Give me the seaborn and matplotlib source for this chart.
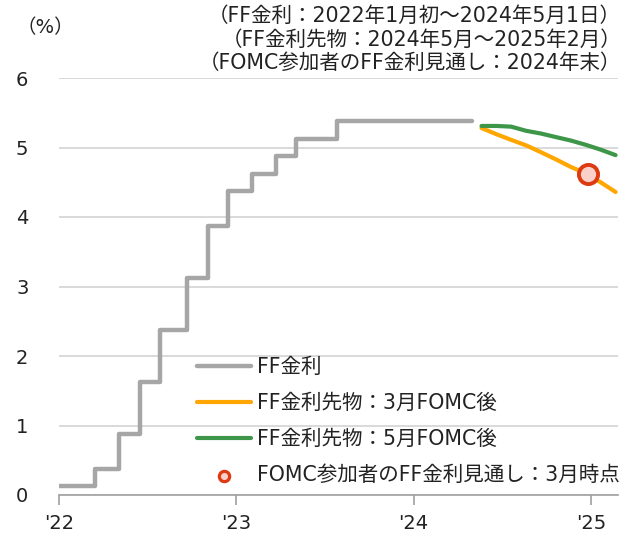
import matplotlib
matplotlib.use("Agg")
import matplotlib.pyplot as plt
import seaborn as sns
import pandas as pd

sns.set_theme(style="white")
plt.rcParams['font.family'] = ['DejaVu Sans', 'Noto Sans CJK JP']

# FF rate (midpoint of target range), step changes
ff_dates = ["2022-01-01", "2022-03-17", "2022-05-05", "2022-06-16", "2022-07-28",
            "2022-09-22", "2022-11-03", "2022-12-15", "2023-02-02", "2023-03-23",
            "2023-05-04", "2023-07-27", "2024-05-01"]
ff_values = [0.125, 0.375, 0.875, 1.625, 2.375, 3.125, 3.875, 4.375, 4.625,
             4.875, 5.125, 5.375, 5.375]

# FF futures, May 2024 - Feb 2025
fut_dates = ["2024-05-20", "2024-06-20", "2024-07-20", "2024-08-20", "2024-09-20",
             "2024-10-20", "2024-11-20", "2024-12-20", "2025-01-20", "2025-02-20"]
fut_march = [5.28, 5.19, 5.11, 5.03, 4.93, 4.83, 4.72, 4.63, 4.50, 4.36]
fut_may = [5.31, 5.31, 5.30, 5.24, 5.20, 5.15, 5.10, 5.04, 4.97, 4.89]

# FOMC projection for end of 2024 (March SEP)
fomc_date = ["2024-12-25"]
fomc_value = [4.625]

year_ticks = ["2022-01-01", "2023-01-01", "2024-01-01", "2025-01-01"]
year_labels = ["'22", "'23", "'24", "'25"]

labels = ["FF金利", "FF金利先物：3月FOMC後", "FF金利先物：5月FOMC後",
          "FOMC参加者のFF金利見通し：3月時点"]

c_gray = "#A6A6A6"
c_orange = "#FFA600"
c_green = "#3E9649"

fig = plt.figure(figsize=(6.24, 5.39), dpi=100)
ax = fig.add_axes([59/624, (539-495)/539, (618-59)/624, (495-78)/539])

df_ff = pd.DataFrame({"date": pd.to_datetime(ff_dates), "v": ff_values})
df_fut = pd.DataFrame({"date": pd.to_datetime(fut_dates), "m": fut_march, "n": fut_may})
df_dot = pd.DataFrame({"date": pd.to_datetime(fomc_date), "v": fomc_value})

sns.lineplot(data=df_ff, x="date", y="v", ax=ax, color=c_gray, linewidth=3.2,
             drawstyle="steps-post", label=labels[0], zorder=3)
sns.lineplot(data=df_fut, x="date", y="m", ax=ax, color=c_orange, linewidth=3.0,
             label=labels[1], zorder=3)
sns.lineplot(data=df_fut, x="date", y="n", ax=ax, color=c_green, linewidth=3.0,
             label=labels[2], zorder=3)
sns.scatterplot(data=df_dot, x="date", y="v", ax=ax, s=190, color="#FBD0C8",
                edgecolor="#DD3A12", linewidth=2.8, label=labels[3], zorder=5)

ax.set_xlim(pd.Timestamp("2022-01-01"), pd.Timestamp("2025-02-25"))
ax.set_ylim(0, 6)
ax.set_yticks(range(0, 7))
ax.set_xticks(pd.to_datetime(year_ticks))
ax.set_xticklabels(year_labels)
ax.set_xlabel("")
ax.set_ylabel("")

ax.grid(axis="y", color="#D3D3D3", linewidth=1.2)
ax.grid(axis="x", visible=False)
for s in ["left", "right", "top"]:
    ax.spines[s].set_visible(False)
ax.spines["bottom"].set_color("#A0A0A0")
ax.spines["bottom"].set_linewidth(1.2)
ax.tick_params(axis="x", direction="out", length=7, width=1.2, color="#A0A0A0",
               pad=7, labelsize=14, labelcolor="#222222", bottom=True)
ax.tick_params(axis="y", length=0, pad=22, labelsize=14, labelcolor="#222222")

leg = ax.legend(loc="upper left", bbox_to_anchor=(197/624, 1 - 357/539),
                bbox_transform=fig.transFigure, frameon=False, fontsize=14.8,
                handlelength=2.65, handletextpad=0.25, labelspacing=0.78,
                borderaxespad=0, borderpad=0)
for t in leg.get_texts():
    t.set_color("#222222")
h = leg.legend_handles[3]
h.set_sizes([55])
h.set_linewidth(2.3)

fig.text(16/624, 1 - 28/539, "（%）", fontsize=14, ha="left", va="center", color="#222222")
tops = ["（FF金利：2022年1月初～2024年5月1日）",
        "（FF金利先物：2024年5月～2025年2月）",
        "（FOMC参加者のFF金利見通し：2024年末）"]
for i, t in enumerate(tops):
    fig.text(621/624, 1 - (16 + 23.5*i)/539, t, fontsize=14.8, ha="right", va="center",
             color="#222222")

fig.savefig("out.png", dpi=100)
